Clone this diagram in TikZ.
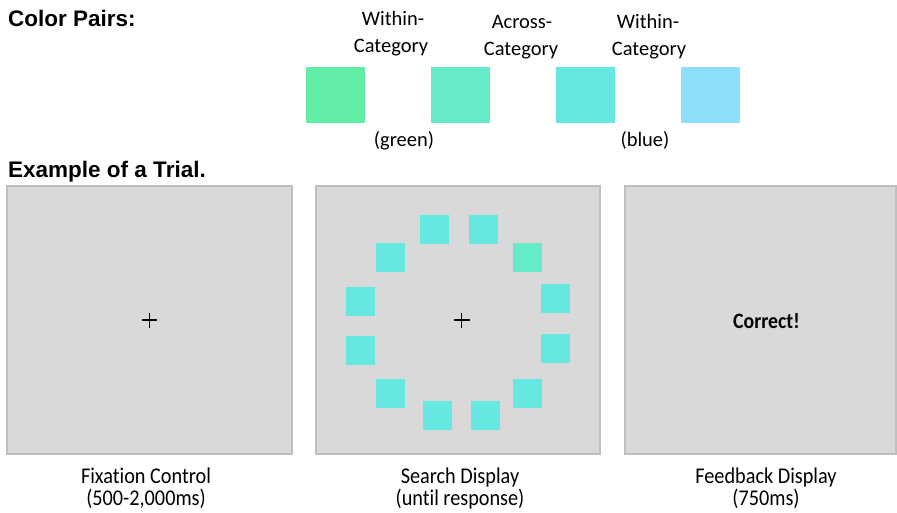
\documentclass[tikz,border=0pt]{standalone}
\usepackage{fontspec}
\setmainfont{Carlito}[Ligatures=NoCommon]
\newfontfamily\arialf{Liberation Sans}
\newfontfamily\narrowf[FakeStretch=0.9,Ligatures=NoCommon]{Carlito}
\definecolor{panelfill}{HTML}{D9D9D9}
\definecolor{panelline}{HTML}{BFBFBF}
\definecolor{cA}{RGB}{99,236,166}
\definecolor{cB}{RGB}{102,234,200}
\definecolor{cC}{RGB}{102,232,226}
\definecolor{cD}{RGB}{142,224,250}
\begin{document}
\begin{tikzpicture}[x=1pt,y=-1pt,
  panel/.style={draw=panelline,fill=panelfill,line width=1.2pt},
  heading/.style={anchor=base west,inner sep=0pt,font=\arialf\bfseries\fontsize{22.5}{26}\selectfont},
  lbl/.style={anchor=base,inner sep=0pt,font=\fontsize{20.5}{24}\selectfont},
  caplbl/.style={anchor=base,inner sep=0pt,font=\narrowf\fontsize{22.5}{26}\selectfont},
  item/.style={minimum size=29pt,inner sep=0pt,outer sep=0pt,fill=cC},
  pairsq/.style={minimum width=59pt,minimum height=56pt,inner sep=0pt}]
\useasboundingbox (0,0) rectangle (897,512);
% headings
\node[heading] (cp) at (8,26) {Color Pairs:};
\node[heading] (ex) at (8,177) {Example of a Trial.};
% color pair labels
\node[lbl] (w1a) at (393,25) {Within-};
\node[lbl] (w1b) at (391,52) {Category};
\node[lbl] (aca) at (522,28) {Across-};
\node[lbl] (acb) at (521,55) {Category};
\node[lbl] (w2a) at (648,28) {Within-};
\node[lbl] (w2b) at (649,55) {Category};
% color pair squares
\node[pairsq,fill=cA] (p1) at (335.5,95) {};
\node[pairsq,fill=cB] (p2) at (460.5,95) {};
\node[pairsq,fill=cC] (p3) at (585,95) {};
\node[pairsq,fill=cD] (p4) at (710.5,95) {};
\node[lbl] (green) at (404,146) {(green)};
\node[lbl] (blue) at (645,146) {(blue)};
% panels
\draw[panel] (7,186) rectangle (292,454);
\draw[panel] (316,186) rectangle (600,454);
\draw[panel] (625,186) rectangle (896,454);
% fixation crosses
\draw[line width=1.4pt] (141.5,320) -- (157,320) (149.25,312.5) -- (149.25,328);
\draw[line width=1.4pt] (454,320) -- (469.5,320) (461.75,312.5) -- (461.75,328);
% search items
\node[item] (s1) at (434.5,229) {};
\node[item] (s2) at (483.5,229) {};
\node[item,fill=cB] (s3) at (527.5,257) {};
\node[item] (s4) at (390.5,257) {};
\node[item] (s5) at (360.5,301.5) {};
\node[item] (s6) at (555.5,298.5) {};
\node[item] (s7) at (360.5,350.5) {};
\node[item] (s8) at (555.5,348) {};
\node[item] (s9) at (390.5,393) {};
\node[item] (s10) at (527.5,393) {};
\node[item] (s11) at (437.5,415.5) {};
\node[item] (s12) at (485,415.5) {};
% feedback
\node[anchor=base,inner sep=0pt,font=\narrowf\bfseries\fontsize{22}{26}\selectfont] (fb) at (766.5,328) {Correct!};
% captions
\node[caplbl] (c1a) at (146,483) {Fixation Control};
\node[caplbl] (c1b) at (146,505) {(500-2,000ms)};
\node[caplbl] (c2a) at (460,483) {Search Display};
\node[caplbl] (c2b) at (460,505) {(until response)};
\node[caplbl] (c3a) at (766,483) {Feedback Display};
\node[caplbl] (c3b) at (766,505) {(750ms)};
\end{tikzpicture}
\end{document}
